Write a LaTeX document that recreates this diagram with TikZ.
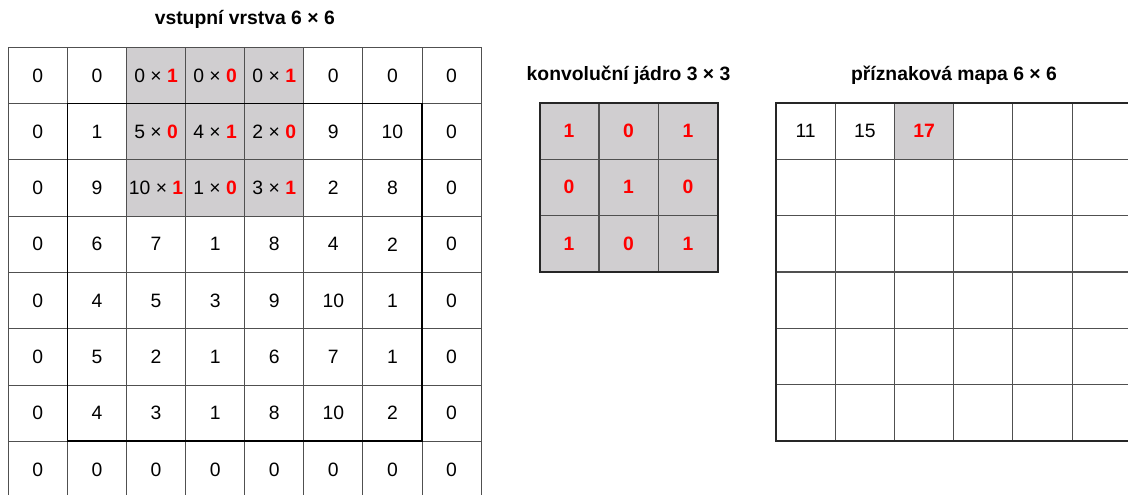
\documentclass[tikz,border=0pt]{standalone}
\usepackage{fontspec}
\setmainfont{Liberation Sans}
\definecolor{cellgray}{RGB}{208,206,208}
\definecolor{gridline}{RGB}{80,80,80}
\definecolor{kred}{RGB}{255,0,0}
\newcommand\rb[1]{\textbf{\color{kred}#1}}
\tikzset{
  cell/.style={draw=gridline, line width=0.65pt, minimum width=44.3pt, minimum height=42.2pt,
    inner sep=0pt, outer sep=0pt, font=\fontsize{14.5}{16}\selectfont, text=black},
  title/.style={font=\fontsize{14.5}{17}\selectfont\bfseries, inner sep=0pt},
  frame/.style={draw=black!85, line width=1.5pt},
  innerframe/.style={draw=black, line width=1.3pt}
}
\begin{document}
\begin{tikzpicture}[x=0.75pt,y=-0.75pt]
\useasboundingbox (0,0) rectangle (1128,494);
\clip (0,0) rectangle (1128,494);
% input layer
\foreach \row [count=\r from 0] in {
  {0,0,0 × \rb{1},0 × \rb{0},0 × \rb{1},0,0,0},
  {0,1,5 × \rb{0},4 × \rb{1},2 × \rb{0},9,10,0},
  {0,9,10 × \rb{1},1 × \rb{0},3 × \rb{1},2,8,0},
  {0,6,7,1,8,4,2,0},
  {0,4,5,3,9,10,1,0},
  {0,5,2,1,6,7,1,0},
  {0,4,3,1,8,10,2,0},
  {0,0,0,0,0,0,0,0}} {
  \foreach \v [count=\c from 0] in \row {
    \def\fillc{white}
    \ifnum\r<3 \ifnum\c>1 \ifnum\c<5 \def\fillc{cellgray}\fi\fi\fi
    \node[cell, fill=\fillc] (L-\r-\c) at ({8.3+59.1*(\c+0.5)},{47.2+56.3*(\r+0.5)}) {\v};
  }
}
\draw[innerframe] (L-1-1.north west) rectangle (L-6-6.south east);
\node[title] (tL) at (244.8,19) {vstupní vrstva 6 × 6};
% kernel
\foreach \row [count=\r from 0] in {{1,0,1},{0,1,0},{1,0,1}} {
  \foreach \v [count=\c from 0] in \row {
    \node[cell, fill=cellgray] (K-\r-\c) at ({539.3+59.5*(\c+0.5)},{102.7+56.4*(\r+0.5)}) {\rb{\v}};
  }
}
\draw[frame] (K-0-0.north west) rectangle (K-2-2.south east);
\node[title] (tK) at (628.5,75) {konvoluční jádro 3 × 3};
% feature map
\foreach \r in {0,...,5} {
  \foreach \c in {0,...,5} {
    \node[cell] (F-\r-\c) at ({776+59.2*(\c+0.5)},{102.7+56.4*(\r+0.5)}) {};
  }
}
\node[cell] at (F-0-0) {11};
\node[cell] at (F-0-1) {15};
\node[cell, fill=cellgray] at (F-0-2) {\rb{17}};
\draw[frame] (F-0-0.north west) rectangle (F-5-5.south east);
\node[title] (tF) at (954,75) {příznaková mapa 6 × 6};
\end{tikzpicture}
\end{document}
